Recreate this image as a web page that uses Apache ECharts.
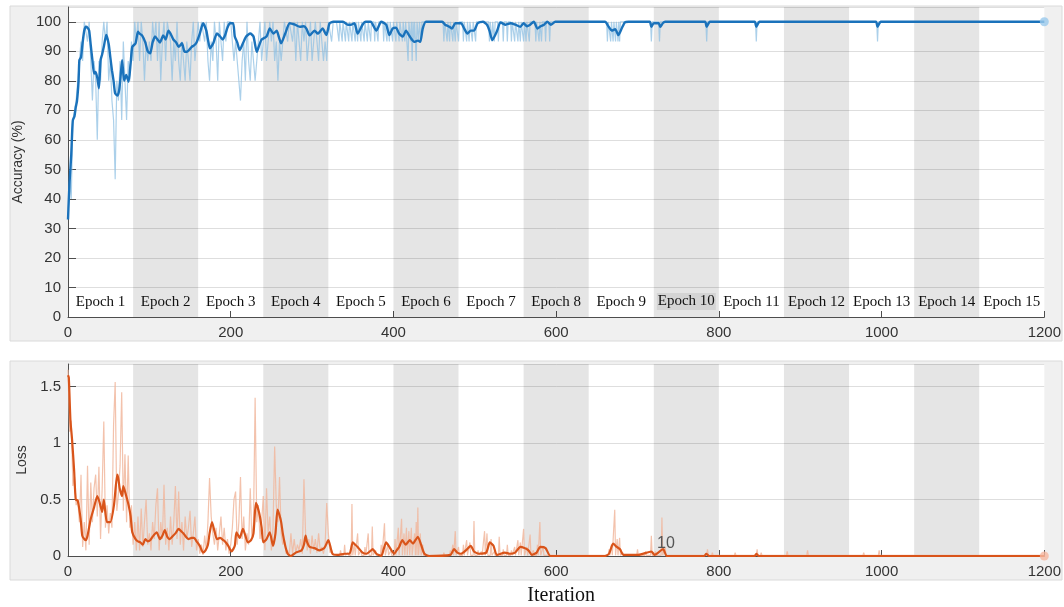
<!DOCTYPE html>
<html>
<head>
<meta charset="utf-8">
<script src="https://cdn.jsdelivr.net/npm/echarts@6/dist/echarts.min.js"></script>
<style>html,body{margin:0;padding:0;background:#fff;}#c{width:1064px;height:607px;}</style>
</head>
<body>
<div id="c"></div>
<script>
// ---------------- data ----------------
const epochLabels = ['Epoch 1','Epoch 2','Epoch 3','Epoch 4','Epoch 5','Epoch 6','Epoch 7','Epoch 8','Epoch 9','Epoch 10','Epoch 11','Epoch 12','Epoch 13','Epoch 14','Epoch 15'];
const epochStarts = [0,80,160,240,320,400,480,560,640,720,800,880,960,1040,1120];
const epochEnds   = [80,160,240,320,400,480,560,640,720,800,880,960,1040,1120,1200];
const xTicks = [0,200,400,600,800,1000,1200];

// raw mini-batch accuracy, iterations 0..330 every 2 iterations
const accRawEarly = [
 33.3,46.7,40,66.7,66.7,73.3,73.3,86.7,93.3,86.7,
 100,100,93.3,100,86.7,73.3,86.7,80,60,86.7,
 80,93.3,100,93.3,100,80,86.7,73.3,66.7,46.7,
 80,73.3,86.7,66.7,93.3,80,66.7,86.7,80,93.3,
 86.7,100,93.3,100,86.7,100,93.3,80,93.3,86.7,
 93.3,86.7,100,93.3,100,86.7,100,80,93.3,100,
 86.7,100,100,93.3,80,93.3,86.7,100,86.7,80,
 93.3,86.7,80,93.3,86.7,80,93.3,100,86.7,93.3,
 100,93.3,100,100,93.3,100,86.7,80,93.3,86.7,
 100,93.3,80,100,93.3,86.7,100,93.3,100,100,
 100,93.3,86.7,93.3,86.7,80,73.3,86.7,93.3,80,
 100,86.7,80,93.3,86.7,80,86.7,93.3,100,86.7,
 93.3,100,86.7,93.3,100,93.3,100,86.7,93.3,80,
 93.3,86.7,93.3,100,100,93.3,100,100,93.3,100,
 86.7,100,93.3,86.7,100,93.3,100,86.7,93.3,100,
 86.7,93.3,100,93.3,86.7,100,93.3,86.7,93.3,86.7,
 100,100,93.3,100,100,100
];
// raw accuracy after iteration 330: 100 except these drops [iteration, value]
const accRawDrops = [
 [333,93.3],[337,93.3],[341,93.3],[345,93.3],[349,93.3],[353,93.3],[356,93.3],[360,93.3],[364,93.3],[368,93.3],
 [372,93.3],[377,93.3],[381,93.3],[388,93.3],[392,93.3],[395,93.3],[399,93.3],[403,93.3],[407,93.3],[411,93.3],
 [414,93.3],[418,86.7],[421,93.3],[423,86.7],[425,93.3],[428,86.7],[431,93.3],[434,93.3],
 [462,93.3],[466,93.3],[469,93.3],[473,93.3],[476,93.3],[480,93.3],[486,93.3],[490,93.3],[493,93.3],[497,93.3],
 [501,93.3],[518,93.3],[521,93.3],[524,93.3],[529,93.3],[535,93.3],[540,93.3],[545,93.3],[549,93.3],[553,93.3],
 [556,93.3],[560,93.3],[563,93.3],[567,93.3],[575,93.3],[579,93.3],[582,93.3],[587,93.3],[592,93.3],
 [663,93.3],[667,93.3],[670,93.3],[673,93.3],[676,93.3],[678,93.3],[717,93.3],[727,93.3],[785,93.3],[846,93.3],[995,93.3]
];
const accRawTop = 100;

// smoothed accuracy [iteration, value]
const accSmooth = [
 [0,33],[1,40],[2,46],[4,55],[5,62],[6,66.7],[8,68],[9.5,71],[11,73],[13,80],[14,87],[16,88],[18,93],[20,97],[22,98.3],
 [24,98],[26,97],[28,92],[30,87],[32,82.5],[34,83],[36,81],[38,77.5],[40,87],[42,89],[44,91.5],[47,95.5],[50,92.5],
 [52,88],[54,83.6],[56,80],[58,75.7],[61,75],[63,77],[64.5,81],[66.5,87],[69,80],[71.5,82],[74.5,79.7],[77,86],
 [79,91.5],[83,92.7],[86,96.6],[88,96],[91,95.4],[95,93],[98,90],[101,89.3],[104,93],[107,95],[110,94],[113,93],
 [117,95.4],[120,94],[123.5,97],[126,96],[129.5,94],[133,93],[136,91.5],[140,92.7],[143,90],[146,89.8],[149,90.5],
 [152,91.5],[155,92],[158,93],[162,96],[166,99.5],[170,97],[172,94],[174.5,91],[178.5,92.7],[183,96],[187,95],
 [190,94],[193,95.4],[196,98],[199,99.5],[203,99.5],[205,95],[208,93],[211,90.4],[215,92.7],[219,95],[224,96],
 [228,95],[232,89.8],[235,92],[238,94],[244,95],[248,97.7],[252.5,96],[256.5,97],[259,95],[262,92.7],[267,96],
 [272.5,99.5],[279,99],[285,98.3],[290,98.5],[293,97.7],[297,95.4],[303,97],[307,96],[313,97.7],[317.5,95.5],
 [321.5,99.5],[326,100],[338,100],[344,99],[348,99],[352,99.5],[356,96],[362,99],[366,100],[372,100],[379,97],
 [385,100],[391,99],[395,95.5],[399,97.7],[403,98],[407,96],[411.5,95],[415.5,97],[419,95.5],[421.5,94.4],
 [425.5,93.2],[430,93.6],[433,93.2],[436,97.7],[440,100],[460,100],[463.5,99],[467.5,98.5],[472,97.7],[476,99.5],
 [483,99.5],[487,97.7],[491,96],[495,97],[499,97],[503.5,99.5],[510,100],[515,99],[518,97],[521.5,93.8],[527.5,97],
 [531.5,99.8],[538,99],[544,99.5],[550,99],[556,98.3],[560,99.5],[564,98.5],[568,99],[572.5,100],[577,97.7],
 [581,98.5],[585,99],[589,100],[593.5,99],[599,100],[660,100],[664.5,98.3],[668.5,97],[672.5,97.5],[676.5,95.5],
 [680.5,97.7],[684.5,99.8],[689,100],[715,100],[717,98.3],[720,99.5],[726,99.5],[728,98.3],[731,99.5],[734,100],
 [783,100],[785,98.3],[789,100],[844,100],[846,98.3],[850,100],[993,100],[995,98.3],[999,100],[1200,100]
];

// raw mini-batch loss, iterations 0..330 every 2 iterations
const lossRawEarly = [
 1.65,1.1,1.2,0.62,0.7,0.45,0.5,0.3,0.72,0.08,
 0.3,0.05,0.8,0.1,0.65,0.3,0.6,0.72,0.35,0.79,
 0.15,0.6,1.19,0.25,0.45,0.2,0.38,0.25,1.16,1.54,
 0.4,0.55,0.8,1.45,0.4,0.9,0.3,0.89,0.25,0.45,
 0.1,0.3,0.05,0.35,0.05,0.42,0.08,0.3,0.5,0.1,
 0.2,0.05,0.3,0.15,0.45,0.6,0.05,0.3,0.15,0.63,
 0.1,0.25,0.05,0.35,0.1,0.3,0.62,0.15,0.57,0.1,
 0.3,0.05,0.35,0.15,0.25,0.4,0.08,0.2,0.35,0.05,
 0.15,0.02,0.1,0.01,0.18,0.05,0.3,0.69,0.35,0.2,
 0.1,0.25,0.05,0.2,0.35,0.1,0.25,0.05,0.15,0.02,
 0.1,0.25,0.5,0.57,0.1,0.3,0.7,0.15,0.35,0.05,
 0.2,0.1,0.6,0.15,0.3,1.4,0.3,0.45,0.15,0.3,
 0.53,0.05,0.6,0.2,0.35,0.05,0.25,0.97,0.45,0.3,
 0.7,0.2,0.1,0.15,0.02,0.05,0.01,0.2,0.02,0.15,
 0.03,0.1,0.05,0.15,0.02,0.68,0.2,0.05,0.15,0.02,
 0.18,0.05,0.15,0.03,0.2,0.05,0.08,0.02,0.1,0.47,
 0.2,0.03,0.05,0.01,0.02,0.01
];
// raw loss after iteration 330: near-zero baseline with these spikes [iteration, value]
const lossRawSpikes = [
 [335,0.05],[340,0.1],[344,0.03],[349,0.46],[352,0.1],[356,0.2],[360,0.05],[365,0.08],[369,0.2],[374,0.26],
 [378,0.05],[385,0.1],[389,0.29],[393,0.1],[397,0.05],[402,0.15],[406,0.25],[410,0.33],[413,0.2],[416,0.25],
 [419,0.22],[422,0.25],[426,0.2],[428,0.3],[430,0.43],[433,0.2],[436,0.1],
 [450,0.02],[462,0.03],[470,0.05],[473,0.1],[476,0.22],[480,0.08],[486,0.1],[490,0.14],[494,0.12],[499,0.31],
 [504,0.05],[508,0.04],[512,0.22],[515,0.2],[520,0.15],[524,0.04],[530,0.17],[535,0.06],[540,0.1],[545,0.05],
 [549,0.08],[553,0.14],[556,0.12],[560,0.24],[564,0.08],[568,0.19],[572,0.05],[577,0.1],[580,0.3],[584,0.08],[590,0.02],
 [640,0.01],[655,0.02],[665,0.06],[668,0.1],[672,0.41],[675,0.15],[678,0.16],[682,0.03],[700,0.06],[710,0.04],
 [717,0.18],[722,0.04],[730,0.34],[734,0.08],[750,0.02],[770,0.02],[786,0.06],[792,0.03],[820,0.03],[847,0.06],
 [852,0.03],[884,0.04],[909,0.05],[912,0.02],[978,0.03],[997,0.05],[1010,0.01]
];
const lossRawBase = 0.006;

// smoothed loss [iteration, value]
const lossSmooth = [
 [0,1.6],[1,1.58],[3,1.2],[5,1.03],[7.5,0.76],[9.5,0.5],[12,0.49],[15.5,0.33],[17.5,0.18],[20,0.15],[22,0.14],
 [24,0.18],[28,0.33],[32,0.43],[36,0.53],[39,0.47],[42,0.39],[44,0.5],[46,0.38],[48,0.3],[52,0.3],[56.5,0.45],
 [60.5,0.72],[62,0.68],[63.5,0.6],[66.5,0.53],[68,0.62],[70.5,0.56],[74.5,0.45],[77,0.35],[79,0.21],[83,0.15],
 [86,0.13],[89,0.12],[92,0.1],[95,0.15],[98,0.13],[101,0.14],[105,0.18],[109,0.21],[113,0.15],[116,0.18],
 [119,0.23],[122,0.17],[125,0.15],[128,0.17],[132,0.2],[136,0.24],[139,0.22],[142,0.2],[145,0.17],[148,0.15],
 [152,0.16],[155,0.16],[158,0.13],[162,0.09],[166,0.03],[169,0.05],[172,0.1],[174,0.2],[177,0.3],[180,0.22],
 [183,0.15],[187,0.16],[191,0.14],[194,0.12],[197,0.09],[201,0.04],[205,0.09],[207,0.21],[211,0.16],[215,0.24],
 [218,0.18],[221,0.12],[225,0.14],[228,0.2],[231,0.47],[235,0.38],[238,0.25],[240,0.12],[244,0.15],[248,0.21],
 [252,0.09],[255,0.2],[257.5,0.41],[260,0.36],[262,0.3],[264,0.2],[267,0.09],[270,0.02],[274,0.0],[280,0.03],
 [287,0.05],[290,0.1],[292,0.18],[294,0.12],[297,0.08],[303,0.07],[309,0.05],[315,0.07],[320,0.14],[325,0.02],
 [331,0.01],[340,0.02],[346,0.02],[350,0.12],[353,0.1],[356,0.08],[362,0.03],[367,0.02],[371,0.04],[374.5,0.06],
 [379,0.02],[385,0.0],[388,0.06],[391,0.12],[395,0.08],[401,0.02],[404,0.05],[407,0.08],[411,0.14],[415,0.1],
 [420,0.14],[424,0.11],[427,0.14],[430,0.17],[434,0.1],[438,0.02],[444,0.0],[470,0.01],[474.5,0.06],[478.5,0.03],
 [483,0.02],[489,0.05],[495,0.09],[499,0.04],[505,0.02],[514,0.03],[518.5,0.12],[523,0.09],[527,0.01],[537,0.03],
 [543,0.02],[549.5,0.03],[556,0.08],[561,0.07],[566,0.05],[570,0.01],[576,0.03],[580.5,0.08],[587,0.07],[593,0.0],
 [660,0.0],[665,0.02],[670,0.11],[674.5,0.08],[678.5,0.06],[682.5,0.01],[701,0.01],[717,0.04],[721,0.01],
 [731.5,0.06],[736,0.0],[782,0.0],[784.5,0.02],[788,0.0],[844,0.0],[846,0.02],[849,0.0],[1200,0.0]
];

// data tip shown in the loss panel
const dataTip = { iter: 735, value: 0.107, text: '10' };

// ---------------- build series data ----------------
const accRaw = accRawEarly.map((v, i) => [i * 2, v]);
accRawDrops.forEach(([it, v]) => { accRaw.push([it - 1, accRawTop], [it, v], [it + 1, accRawTop]); });
accRaw.push([1200, accRawTop]);

const lossRaw = lossRawEarly.map((v, i) => [i * 2, v]);
lossRawSpikes.forEach(([it, v]) => { lossRaw.push([it - 1, lossRawBase], [it, v], [it + 1, lossRawBase]); });
lossRaw.push([1200, lossRawBase]);

function bands(withLabels) {
  return epochLabels.map((lab, i) => {
    const even = i % 2 === 1;
    const a = { xAxis: epochStarts[i], itemStyle: { color: even ? 'rgba(0,0,0,0.10)' : 'rgba(0,0,0,0)' } };
    if (withLabels) {
      a.name = lab;
      a.label = { show: true };
      if (lab === 'Epoch 10') a.label = { show: true, backgroundColor: 'rgba(0,0,0,0.07)', padding: [1, 1] };
    } else {
      a.label = { show: false };
    }
    return [a, { xAxis: epochEnds[i] }];
  });
}

const SANS = 'Liberation Sans, Arial, sans-serif';
const SERIF = 'Liberation Serif, Times New Roman, serif';

function xAx(gi, withName) {
  const ax = {
    type: 'value', gridIndex: gi, min: 0, max: 1200, interval: 200,
    axisLine: { show: true, onZero: false, lineStyle: { color: '#4d4d4d', width: 1 } },
    axisTick: { show: true, inside: true, length: 6, lineStyle: { color: '#4d4d4d' } },
    axisLabel: { color: '#333', fontSize: 15, fontFamily: SANS, margin: 8, formatter: v => String(v) },
    splitLine: { show: false }
  };
  if (withName) {
    ax.name = 'Iteration'; ax.nameLocation = 'middle'; ax.nameGap = 30;
    ax.nameTextStyle = { fontFamily: SERIF, fontSize: 20, color: '#111', padding: [0, 0, 0, 10] };
  }
  return ax;
}

const option = {
  animation: false,
  backgroundColor: '#ffffff',
  graphic: [
    { type: 'rect', z: -10, shape: { x: 10, y: 6, width: 1052, height: 335 }, style: { fill: '#f0f0f0', stroke: '#dadada', lineWidth: 1 } },
    { type: 'rect', z: -10, shape: { x: 10, y: 361, width: 1052, height: 219 }, style: { fill: '#f0f0f0', stroke: '#dadada', lineWidth: 1 } }
  ],
  grid: [
    { left: 68, right: 16, top: 7, bottom: 290, show: true, backgroundColor: '#ffffff', borderWidth: 0 },
    { left: 68, right: 16, top: 364, bottom: 47, show: true, backgroundColor: '#ffffff', borderWidth: 0 }
  ],
  xAxis: [xAx(0, false), xAx(1, true)],
  yAxis: [
    {
      type: 'value', gridIndex: 0, min: 0, max: 105, interval: 10,
      name: 'Accuracy (%)', nameLocation: 'middle', nameGap: 36, nameRotate: 90,
      nameTextStyle: { fontFamily: SANS, fontSize: 14, color: '#333' },
      axisLine: { show: true, lineStyle: { color: '#4d4d4d' } },
      axisTick: { show: true, inside: true, length: 8, lineStyle: { color: '#4d4d4d' } },
      axisLabel: { color: '#333', fontSize: 15, fontFamily: SANS, margin: 7, showMaxLabel: false },
      splitLine: { show: true, lineStyle: { color: '#dedede', width: 1 } }
    },
    {
      type: 'value', gridIndex: 1, min: 0, max: 1.7, interval: 0.5,
      name: 'Loss', nameLocation: 'middle', nameGap: 24, nameRotate: 90,
      nameTextStyle: { fontFamily: SANS, fontSize: 14, color: '#333' },
      axisLine: { show: true, lineStyle: { color: '#4d4d4d' } },
      axisTick: { show: true, inside: true, length: 8, lineStyle: { color: '#4d4d4d' } },
      axisLabel: { color: '#333', fontSize: 15, fontFamily: SANS, margin: 7, showMaxLabel: false,
        formatter: v => String(v) },
      splitLine: { show: true, lineStyle: { color: '#dedede', width: 1 } }
    }
  ],
  series: [
    {
      type: 'line', xAxisIndex: 0, yAxisIndex: 0, data: [], z: 1, silent: true,
      markArea: {
        silent: true,
        label: { position: 'insideBottom', distance: 7, fontFamily: SERIF, fontSize: 15, color: '#111' },
        data: bands(true)
      }
    },
    {
      type: 'line', xAxisIndex: 1, yAxisIndex: 1, data: [], z: 1, silent: true,
      markArea: { silent: true, data: bands(false) }
    },
    {
      name: 'acc raw', type: 'line', xAxisIndex: 0, yAxisIndex: 0, data: accRaw, z: 3,
      showSymbol: false, symbol: 'none',
      lineStyle: { color: '#8fc0e3', width: 1.2, opacity: 0.75 }
    },
    {
      name: 'acc smooth', type: 'line', xAxisIndex: 0, yAxisIndex: 0, data: accSmooth, z: 4,
      showSymbol: false, symbol: 'none', smooth: 0.2,
      lineStyle: { color: '#1a72bb', width: 2.4 }
    },
    {
      name: 'loss raw', type: 'line', xAxisIndex: 1, yAxisIndex: 1, data: lossRaw, z: 3,
      showSymbol: false, symbol: 'none',
      lineStyle: { color: '#f1b79e', width: 1.2, opacity: 0.85 }
    },
    {
      name: 'loss smooth', type: 'line', xAxisIndex: 1, yAxisIndex: 1, data: lossSmooth, z: 4,
      showSymbol: false, symbol: 'none', smooth: 0.2,
      lineStyle: { color: '#d9541a', width: 2.2 },
      markPoint: {
        silent: true, symbol: 'circle', symbolSize: 0,
        label: { show: true, position: 'inside', color: '#555', fontSize: 16, fontFamily: SANS, formatter: dataTip.text },
        data: [{ coord: [dataTip.iter, dataTip.value] }]
      }
    },
    {
      type: 'scatter', xAxisIndex: 0, yAxisIndex: 0, z: 5, symbolSize: 9,
      itemStyle: { color: '#9ac9ec' }, data: [accSmooth[accSmooth.length - 1]]
    },
    {
      type: 'scatter', xAxisIndex: 1, yAxisIndex: 1, z: 5, symbolSize: 9,
      itemStyle: { color: '#f6b8a0' }, data: [lossSmooth[lossSmooth.length - 1]]
    }
  ]
};

const chart = echarts.init(document.getElementById('c'), null, { renderer: 'canvas' });
chart.setOption(option);
</script>
</body>
</html>
